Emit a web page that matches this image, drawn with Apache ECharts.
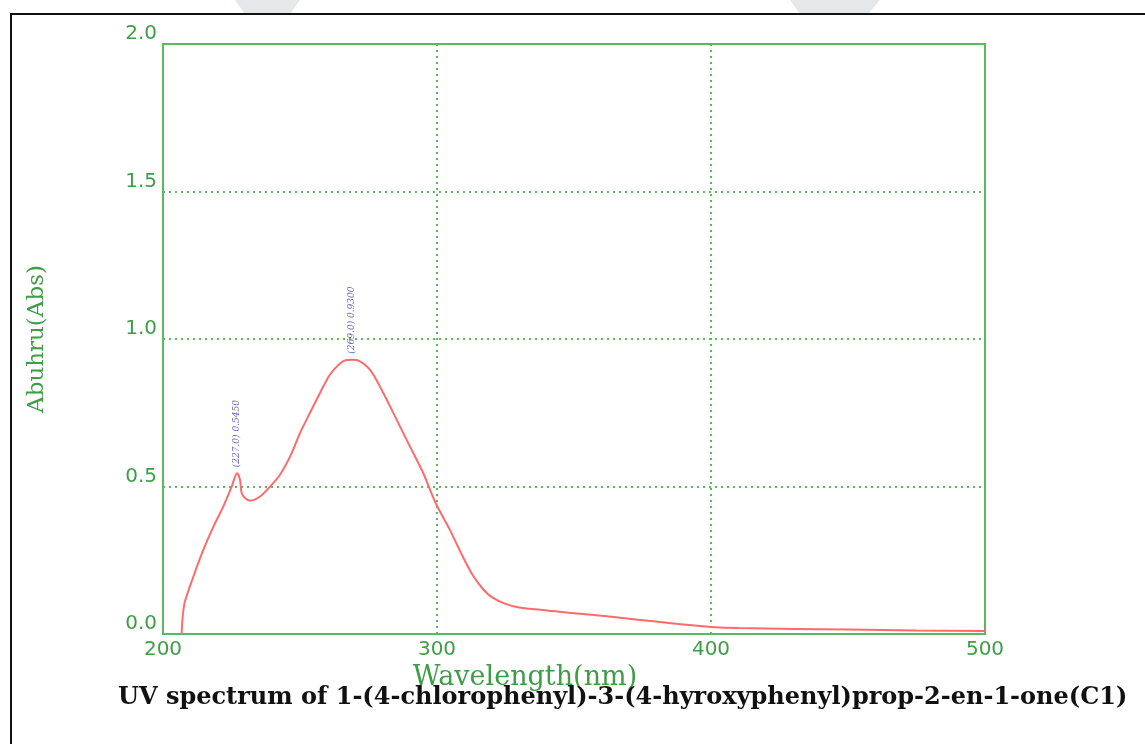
<!DOCTYPE html>
<html>
<head>
<meta charset="utf-8">
<script src="https://cdn.jsdelivr.net/npm/echarts@6/dist/echarts.min.js"></script>
<style>
  html, body { margin: 0; padding: 0; background: #ffffff; }
  #chart { width: 1145px; height: 744px; }
</style>
</head>
<body>
<div id="chart"></div>
<script>
// UV absorbance spectrum, wavelength (nm) vs absorbance
const wavelength = [206.8, 207.2, 208.0, 211.1, 214.7, 218.4, 222.0, 225.1, 227.0, 228.1, 228.7, 230.0, 231.8, 235.4, 239.1, 242.7, 246.4, 250.0, 253.6, 257.3, 260.9, 264.6, 267.0, 269.0, 270.7, 275.5, 280.4, 285.3, 290.1, 295.0, 299.5, 304.7, 309.0, 313.0, 317.0, 320.0, 325.0, 330.0, 340.0, 350.0, 360.0, 370.0, 380.0, 390.0, 400.0, 410.0, 430.0, 450.0, 475.0, 500.0];
const absorbance = [0.000, 0.060, 0.110, 0.195, 0.285, 0.364, 0.432, 0.500, 0.545, 0.523, 0.478, 0.460, 0.452, 0.466, 0.500, 0.540, 0.602, 0.681, 0.749, 0.817, 0.879, 0.917, 0.929, 0.930, 0.929, 0.896, 0.817, 0.726, 0.636, 0.545, 0.444, 0.353, 0.270, 0.200, 0.150, 0.125, 0.102, 0.090, 0.080, 0.070, 0.062, 0.052, 0.042, 0.032, 0.024, 0.020, 0.017, 0.015, 0.012, 0.010];

// Picked peaks
const peakWavelength = [227.0, 269.0];
const peakAbsorbance = [0.545, 0.930];

const xTicks = [200, 300, 400, 500];
const yTicks = [0.0, 0.5, 1.0, 1.5, 2.0];

const green = '#5cb85c';
const labelGreen = '#3e9e46';

const chart = echarts.init(document.getElementById('chart'), null, { renderer: 'canvas' });

chart.setOption({
  backgroundColor: '#ffffff',
  animation: false,
  grid: {
    left: 163, right: 160, top: 44, bottom: 110,
    show: true, borderColor: green, borderWidth: 2, backgroundColor: 'transparent'
  },
  xAxis: {
    type: 'value', min: xTicks[0], max: xTicks[xTicks.length - 1], interval: 100,
    name: 'Wavelength(nm)', nameLocation: 'middle', nameGap: 25,
    nameTextStyle: { fontFamily: 'DejaVu Serif', fontSize: 27, color: labelGreen, padding: [0, 98, 0, 0] },
    axisLine: { show: false }, axisTick: { show: false },
    axisLabel: { fontFamily: 'DejaVu Sans', fontSize: 20, color: labelGreen, margin: 6 },
    splitLine: { show: true, lineStyle: { color: green, type: [2, 4], width: 2 } }
  },
  yAxis: {
    type: 'value', min: yTicks[0], max: yTicks[yTicks.length - 1], interval: 0.5,
    name: 'Abuhru(Abs)', nameLocation: 'middle', nameGap: 114, nameRotate: 90,
    nameTextStyle: { fontFamily: 'DejaVu Serif', fontSize: 23, color: labelGreen },
    axisLine: { show: false }, axisTick: { show: false },
    axisLabel: {
      fontFamily: 'DejaVu Sans', fontSize: 20, color: labelGreen, margin: 6,
      verticalAlign: 'bottom', formatter: v => v.toFixed(1)
    },
    splitLine: { show: true, lineStyle: { color: green, type: [2, 4], width: 2 } }
  },
  series: [
    {
      type: 'line',
      data: wavelength.map((w, i) => [w, absorbance[i]]),
      showSymbol: false, smooth: 0.3,
      lineStyle: { color: '#ff6b6b', width: 2 },
      z: 3
    },
    {
      type: 'scatter',
      data: peakWavelength.map((w, i) => [w, peakAbsorbance[i]]),
      symbolSize: 0,
      label: {
        show: true, position: 'top', distance: 6, rotate: 90,
        align: 'left', verticalAlign: 'middle',
        fontFamily: 'DejaVu Serif', fontStyle: 'italic', fontSize: 9, color: '#3a3aa8',
        formatter: p => '(' + p.value[0].toFixed(1) + ') ' + p.value[1].toFixed(4)
      },
      z: 4
    }
  ],
  graphic: [
    // faint watermark shapes above the frame
    { type: 'polygon', shape: { points: [[235, 0], [300, 0], [290, 14], [245, 14]] }, style: { fill: '#e4e8eb' }, z: -1 },
    { type: 'polygon', shape: { points: [[790, 0], [880, 0], [868, 14], [800, 14]] }, style: { fill: '#e4e8eb' }, z: -1 },
    // outer frame
    { type: 'polyline', shape: { points: [[11, 744], [11, 14], [1145, 14]] }, style: { stroke: '#111111', lineWidth: 2, fill: null }, z: 10 },
    {
      type: 'text', left: 118, top: 686,
      style: {
        text: 'UV spectrum of 1-(4-chlorophenyl)-3-(4-hyroxyphenyl)prop-2-en-1-one(C1)',
        fontFamily: 'DejaVu Serif', fontWeight: 'bold', fontSize: 24, fill: '#111111'
      },
      z: 10
    }
  ]
});
</script>
</body>
</html>
